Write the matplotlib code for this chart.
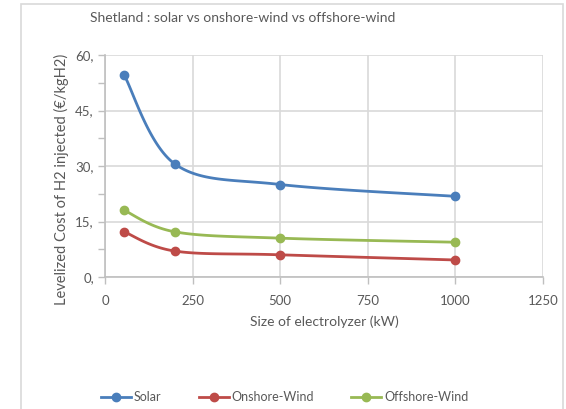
import numpy as np
import matplotlib
matplotlib.use('Agg')
from matplotlib import pyplot as plt
from matplotlib.lines import Line2D
from matplotlib.patches import Rectangle

plt.rcParams['font.family'] = ['Lato', 'DejaVu Sans']

# data
sizes = [55, 200, 500, 1000]
solar = [54.5, 30.5, 25.0, 21.8]
onshore = [12.2, 7.0, 6.0, 4.6]
offshore = [18.0, 12.2, 10.5, 9.4]

series = [("Solar", solar, '#4A7EBB'),
          ("Onshore-Wind", onshore, '#BE4B48'),
          ("Offshore-Wind", offshore, '#98B954')]

xticks = [0, 250, 500, 750, 1000, 1250]
yticks = [0, 15, 30, 45, 60]

def smooth(xs, ys, n = 40):
  # Excel-style smoothed line: Catmull-Rom bezier through the points
  p = np.column_stack([xs, ys]).astype(float)
  p_ext = np.vstack([p[0], p, p[-1]])
  out = []
  t = np.linspace(0, 1, n)[:, None]
  for i in range(len(p) - 1):
    p0, p1, p2, p3 = p_ext[i], p_ext[i + 1], p_ext[i + 2], p_ext[i + 3]
    c1 = p1 + (p2 - p0) / 6
    c2 = p2 - (p3 - p1) / 6
    seg = ((1 - t) ** 3) * p1 + 3 * ((1 - t) ** 2) * t * c1 + 3 * (1 - t) * t ** 2 * c2 + t ** 3 * p2
    out.append(seg)
  out = np.vstack(out)
  return out[:, 0], out[:, 1]

fig = plt.figure(figsize = (5.66, 4.09), dpi = 100)
fig.patches.append(Rectangle((21 / 566, -0.1), (563 - 21) / 566, 1.1 - 4 / 409,
                             transform = fig.transFigure, fill = False,
                             edgecolor = '#D9D9D9', linewidth = 1.2))

ax = fig.add_axes([105 / 566, 1 - 277 / 409, (543 - 105) / 566, (277 - 55) / 409])
grid_col = '#D9D9D9'
text_col = '#595959'

for name, vals, col in series:
  sx, sy = smooth(sizes, vals)
  ax.plot(sx, sy, color = col, linewidth = 2.0, solid_capstyle = 'round')
  ax.plot(sizes, vals, linestyle = 'none', marker = 'o', markersize = 6, color = col)

ax.set_xlim(0, 1250)
ax.set_ylim(0, 60)
ax.set_xticks(xticks)
ax.set_xticklabels([str(v) for v in xticks])
ax.set_yticks(yticks)
ax.set_yticklabels(["{},".format(v) for v in yticks])
ax.set_yticks(np.arange(0, 61, 7.5), minor = True)
ax.grid(True, which = 'major', color = grid_col, linewidth = 1.2)
ax.set_axisbelow(True)
for s in ['top', 'right']:
  ax.spines[s].set_visible(False)
for s in ['left', 'bottom']:
  ax.spines[s].set_color('#BFBFBF')
  ax.spines[s].set_linewidth(1.2)
ax.tick_params(axis = 'both', which = 'both', direction = 'out', color = '#BFBFBF',
               labelcolor = text_col, labelsize = 9.5, width = 1)
ax.tick_params(axis = 'y', which = 'major', length = 5, pad = 3)
ax.tick_params(axis = 'y', which = 'minor', length = 5)
ax.tick_params(axis = 'x', which = 'major', length = 5, pad = 8)

ax.set_xlabel("Size of electrolyzer (kW)", color = text_col, fontsize = 10, labelpad = 6)
ax.set_ylabel("Levelized Cost of H2 injected (€/kgH2)", color = text_col, fontsize = 10.5)
ax.yaxis.set_label_coords(-0.082, 0.44)

fig.text(90 / 566, 1 - 18 / 409, "Shetland : solar vs onshore-wind vs offshore-wind",
         color = text_col, fontsize = 10, va = 'center', ha = 'left')

handles = [Line2D([], [], color = col, linewidth = 2.0, marker = 'o', markersize = 6)
           for name, vals, col in series]
fig.legend(handles, [s[0] for s in series], loc = 'center', bbox_to_anchor = (0.503, 1 - 397 / 409),
           ncol = 3, frameon = False, fontsize = 9, handlelength = 2.4, handletextpad = 0.2,
           columnspacing = 3.0, labelcolor = text_col)

fig.savefig('out.png', dpi = 100)
